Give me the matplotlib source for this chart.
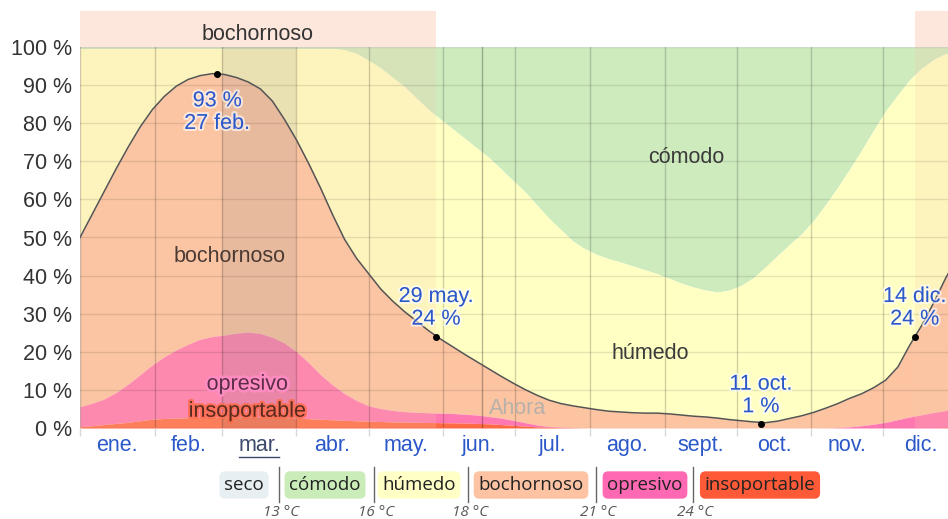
import matplotlib.pyplot as plt
import matplotlib.patheffects as pe
import matplotlib.transforms as mtransforms
import numpy as np

# day of year (0 = 1 ene.) for the sampled values, every 5 days
days = list(range(0, 366, 5))

# cumulative boundaries in % (bottom layer first)
insoportable_top = [0.3, 0.6, 0.9, 1.2, 1.5, 1.9, 2.3, 2.5, 2.6, 2.7,
                    2.8, 2.85, 2.9, 2.9, 2.9, 2.85, 2.8, 2.7, 2.6, 2.45,
                    2.3, 2.15, 2.0, 1.9, 1.8, 1.7, 1.6, 1.55, 1.5, 1.45,
                    1.4, 1.35, 1.3, 1.2, 1.1, 0.9, 0.7, 0.5, 0.3, 0.2,
                    0.1, 0.05, 0, 0, 0, 0, 0, 0, 0, 0,
                    0, 0, 0, 0, 0, 0, 0, 0, 0, 0,
                    0, 0, 0, 0, 0, 0, 0, 0, 0, 0,
                    0, 0, 0.1, 0.2]
opresivo_top = [5.6, 6.5, 7.6, 9.3, 11.5, 14, 16.5, 18.7, 20.5, 22,
                23.3, 24, 24.4, 24.9, 25.2, 24.8, 23.8, 22.3, 20, 17.2,
                14, 11.3, 9.0, 7.2, 5.8, 5.1, 4.6, 4.3, 4.1, 4.0,
                3.9, 3.8, 3.6, 3.4, 3.0, 2.6, 2.0, 1.4, 0.8, 0.4,
                0.2, 0.1, 0, 0, 0, 0, 0, 0, 0, 0,
                0, 0, 0, 0, 0, 0, 0, 0, 0, 0,
                0, 0, 0, 0.1, 0.3, 0.6, 1.0, 1.5, 2.2, 2.9,
                3.5, 4.1, 4.6, 5.2]
bochornoso_top = [50, 56, 62, 68, 73.7, 79, 83.5, 87, 89.7, 91.5,
                  92.5, 93, 92.8, 92, 90.8, 89, 85.8, 81, 75.6, 69.5,
                  63, 56, 49.5, 44.5, 40.5, 36.5, 33.3, 30.5, 28, 25.5,
                  23.3, 21.3, 19.3, 17.4, 15.5, 13.6, 11.8, 10.1, 8.6, 7.3,
                  6.4, 5.8, 5.3, 4.8, 4.4, 4.2, 4.0, 3.9, 3.9, 3.7,
                  3.4, 3.1, 2.9, 2.6, 2.2, 1.9, 1.6, 1.4, 1.8, 2.5,
                  3.2, 4.1, 5.2, 6.4, 7.8, 9, 10.6, 12.6, 16, 21.8,
                  27, 33, 39.5, 45]
humedo_top = [99.6, 99.6, 99.6, 99.6, 99.6, 99.6, 99.6, 99.6, 99.6, 99.6,
              99.6, 99.6, 99.6, 99.6, 99.6, 99.6, 99.6, 99.6, 99.6, 99.6,
              99.6, 99.6, 99.3, 98.3, 96.5, 94.5, 92, 89.5, 86.5, 83.5,
              81, 78.5, 76, 73.5, 71, 68, 65, 62, 58.5, 55,
              52, 49, 47, 45.5, 44.4, 43.5, 42.5, 41.5, 40.5, 39.3,
              38, 37, 36.2, 35.7, 36.2, 37.5, 39.5, 42.3, 45.3, 48.2,
              51, 54.5, 58.7, 63.2, 68, 73, 78.3, 83.3, 87.5, 91.5,
              94.5, 96.8, 98.3, 99]

month_starts = [0, 31, 59, 90, 120, 151, 181, 212, 243, 273, 304, 334, 365]
month_names = ['ene.', 'feb.', 'mar.', 'abr.', 'may.', 'jun.', 'jul.', 'ago.',
               'sept.', 'oct.', 'nov.', 'dic.']

mark_days = [57, 148, 283, 347]
mark_vals = [93, 24, 1, 24]
mark_texts = ['93 %\n27 feb.', '29 may.\n24 %', '11 oct.\n1 %', '14 dic.\n24 %']

muggy_periods = [(0, 148), (347, 365)]
current_month = (59, 90)
now_day = 167

legend_names = ['seco', 'cómodo', 'húmedo', 'bochornoso', 'opresivo', 'insoportable']
legend_colors = ['#e8eff2', '#c9ecb8', '#ffffc6', '#fdc3a3', '#ff68b3', '#ff5a38']
legend_temps = ['13 °C', '16 °C', '18 °C', '21 °C', '24 °C']

c_comodo = '#ceebbe'
c_humedo = '#ffffc4'
c_boch = '#fdc4a2'
c_opres = '#ff78b2'
c_insop = '#ff6a46'
blue = '#2b58c9'
dark = '#333333'
font = ['Liberation Sans', 'DejaVu Sans']
fs = 15.5

d = np.array(days)
zero = np.zeros(len(d))

fig = plt.figure(figsize=(9.48, 5.19), dpi=100)
W, H = 948, 519
ax = fig.add_axes([80 / W, (H - 428) / H, 878 / W, 381 / H])
ax.set_xlim(0, 365)
ax.set_ylim(0, 100)

ax.fill_between(d, humedo_top, 100, color=c_comodo, lw=0, zorder=1)
ax.fill_between(d, bochornoso_top, humedo_top, color=c_humedo, lw=0, zorder=1)
ax.fill_between(d, opresivo_top, bochornoso_top, color=c_boch, lw=0, zorder=1)
ax.fill_between(d, insoportable_top, opresivo_top, color=c_opres, lw=0, zorder=1)
ax.fill_between(d, zero, insoportable_top, color=c_insop, lw=0, zorder=1)

# muggy period tint and current month highlight
for a, b in muggy_periods:
    ax.axvspan(a, b, color='#f7c9a8', alpha=0.22, lw=0, zorder=2)
ax.axvspan(*current_month, color='#7a7a7a', alpha=0.14, lw=0, zorder=2)

for v in range(0, 101, 10):
    ax.axhline(v, color='#000000', alpha=0.10, lw=1, zorder=3)
for m in month_starts:
    ax.axvline(m, color='#000000', alpha=0.18, lw=1, zorder=3)
ax.axvline(now_day, color='#000000', alpha=0.28, lw=1, zorder=3)

ax.plot(d, bochornoso_top, color='#555555', lw=1.1, zorder=4)
ax.plot(mark_days, mark_vals, 'o', color='black', ms=4, zorder=5)

halo = [pe.withStroke(linewidth=3, foreground='white', alpha=0.6)]
for i, (x, y, t) in enumerate(zip(mark_days, mark_vals, mark_texts)):
    if i == 0:
        ax.annotate(t, (x, y), xytext=(0, -12), textcoords='offset points',
                    ha='center', va='top', fontsize=fs, color=blue, family=font,
                    linespacing=1.1, path_effects=halo, zorder=6)
    else:
        ax.annotate(t, (x, y), xytext=(0, 5), textcoords='offset points',
                    ha='center', va='bottom', fontsize=fs, color=blue, family=font,
                    linespacing=1.1, path_effects=halo, zorder=6)

lab = dict(ha='center', va='center', fontsize=fs, family=font, zorder=6)
ax.text(252, 71, 'cómodo', color='#3a3a3a', **lab)
ax.text(62, 45, 'bochornoso', color='#4a3a34', **lab)
ax.text(237, 19.5, 'húmedo', color='#3a3a3a', **lab)
ax.text(69.5, 11.5, 'opresivo', color='#5b2d48',
        path_effects=[pe.withStroke(linewidth=4, foreground='#ff8cc0')], **lab)
ax.text(69.5, 4.4, 'insoportable', color='#5a2a1e',
        path_effects=[pe.withStroke(linewidth=3, foreground='#ff6a46', alpha=0.8)],
        **lab)
ax.text(182, 5, 'Ahora', color='#b8b0aa', **lab)

ax.set_yticks(range(0, 101, 10))
ax.set_yticklabels([f'{v} %' for v in range(0, 101, 10)], fontsize=fs,
                   color=dark, family=font)
ax.set_xticks(month_starts)
ax.set_xticklabels([])
mids = [(a + b) / 2 for a, b in zip(month_starts[:-1], month_starts[1:])]
ax.set_xticks(mids, minor=True)
ax.set_xticklabels(month_names, minor=True, fontsize=fs, color=blue, family=font)
ax.get_xticklabels(minor=True)[2].set_color('#3d4a6e')
ax.tick_params(axis='y', length=0, pad=6)
ax.tick_params(axis='x', which='major', length=6, color='#d8d8d8', width=1)
ax.tick_params(axis='x', which='minor', length=0, pad=5)
for s in ax.spines.values():
    s.set_visible(False)

# underline for the current month label
tr = mtransforms.blended_transform_factory(ax.transData, ax.transAxes)
ax.plot([66.3, 82.7], [-0.077, -0.077], transform=tr, color='#3d4a6e', lw=1,
        clip_on=False)

# top strip with the muggy periods
top = fig.add_axes([80 / W, (H - 47) / H, 878 / W, 36 / H])
top.set_xlim(0, 365)
top.set_ylim(0, 1)
for a, b in muggy_periods:
    top.axvspan(a, b, color='#fde6dc', lw=0)
top.text(sum(muggy_periods[0]) / 2, 0.34, 'bochornoso', ha='center',
         va='center', fontsize=fs, color=dark, family=font)
top.axis('off')

# legend
lx = [244, 325, 419, 531, 645, 760]
seps = [279, 374, 468, 596, 693]
lfont = ['Open Sans', 'DejaVu Sans']
for x, name, c in zip(lx, legend_names, legend_colors):
    fig.text(x / W, 1 - 485 / H, name, ha='center', va='center', fontsize=13.5,
             family=lfont, color='#222222',
             bbox=dict(boxstyle='round,pad=0.25,rounding_size=0.3', fc=c, ec='none'))
for x, t in zip(seps, legend_temps):
    fig.add_artist(plt.Line2D([x / W, x / W], [1 - 467 / H, 1 - 502 / H],
                              color='#666666', lw=1))
    fig.text((x + 2) / W, 1 - 512 / H, t, ha='center', va='center', fontsize=11,
             style='italic', family=lfont, color='#555555')

fig.savefig('out.png', dpi=100)
